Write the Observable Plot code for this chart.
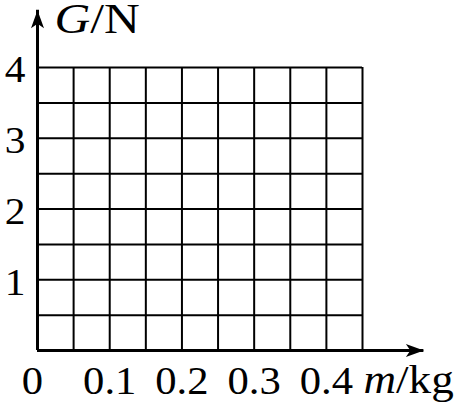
<!DOCTYPE html>
<html>
<head>
<meta charset="utf-8">
<script src="https://cdn.jsdelivr.net/npm/d3@7"></script>
<script src="https://cdn.jsdelivr.net/npm/@observablehq/plot@0.6"></script>
<style>
  html, body { margin: 0; padding: 0; background: #fff; }
  svg { display: block; overflow: visible; }
</style>
</head>
<body>
<div id="chart"></div>
<script>
// grid lines (vertical, in kg) and (horizontal, in N)
const gridX = [0.05, 0.1, 0.15, 0.2, 0.25, 0.3, 0.35, 0.4, 0.45];
const gridY = [0.5, 1, 1.5, 2, 2.5, 3, 3.5, 4];
// tick labels
const xTickValues = [0.1, 0.2, 0.3, 0.4];
const xTickLabels = ["0.1", "0.2", "0.3", "0.4"];
const yTickValues = [1, 2, 3, 4];
const yTickLabels = ["1", "2", "3", "4"];
const originLabel = ["0"];
// axis extents (arrow tips)
const xAxisEnd = [0.535];
const yAxisEnd = [4.81];
// axis titles: [italic symbol, unit]
const xTitle = ["m", "/kg"];
const yTitle = ["G", "/N"];

const arrowUp = {
  draw(ctx) {
    ctx.moveTo(0, 0);
    ctx.lineTo(6.5, 18);
    ctx.lineTo(0, 13.5);
    ctx.lineTo(-6.5, 18);
    ctx.closePath();
  }
};
const arrowRight = {
  draw(ctx) {
    ctx.moveTo(0, 0);
    ctx.lineTo(-18, 6.5);
    ctx.lineTo(-13.5, 0);
    ctx.lineTo(-18, -6.5);
    ctx.closePath();
  }
};

const font = "'Liberation Serif', 'Times New Roman', serif";
const tag = name => () => name;

const chart = Plot.plot({
  width: 456,
  height: 412,
  marginLeft: 37,
  marginRight: 94,
  marginTop: 67,
  marginBottom: 62,
  style: { fontFamily: font, background: "#fff", color: "#000" },
  x: { domain: [0, 0.45], axis: null },
  y: { domain: [0, 4], axis: null },
  marks: [
    Plot.ruleX(gridX, { x: d => d, y1: 0, y2: 4, stroke: "#000", strokeWidth: 2, strokeOpacity: 1 }),
    Plot.ruleY(gridY, { y: d => d, x1: 0, x2: 0.45, stroke: "#000", strokeWidth: 2, strokeOpacity: 1 }),
    // axes
    Plot.ruleX([0], { x: d => d, y1: 0, y2: yAxisEnd[0], stroke: "#000", strokeWidth: 3, strokeOpacity: 1 }),
    Plot.ruleY([0], { y: d => d, x1: 0, x2: xAxisEnd[0], stroke: "#000", strokeWidth: 3, strokeOpacity: 1 }),
    Plot.dot(yAxisEnd, { x: () => 0, y: d => d, symbol: arrowUp, fill: "#000", stroke: "none" }),
    Plot.dot(xAxisEnd, { x: d => d, y: () => 0, symbol: arrowRight, fill: "#000", stroke: "none" }),
    // tick labels
    Plot.text(xTickValues, { x: d => d, y: () => 0, text: (d, i) => xTickLabels[i], fontSize: 41, dy: 30, fill: "#000", ariaLabel: tag("xtick") }),
    Plot.text(originLabel, { x: () => 0, y: () => 0, text: d => d, fontSize: 41, dy: 30, dx: -5, fill: "#000", ariaLabel: tag("xtick") }),
    Plot.text(yTickValues, { x: () => 0, y: d => d, text: (d, i) => yTickLabels[i], fontSize: 37, dx: -12, dy: 3, textAnchor: "end", fill: "#000", ariaLabel: tag("ytick") }),
    // axis titles
    Plot.text([xTitle.join("")], { x: () => 0.45, y: () => 0, text: d => d, fontSize: 41, dx: 1, dy: 29, textAnchor: "start", fill: "#000", ariaLabel: tag("xtitle") }),
    Plot.text([yTitle.join("")], { x: () => 0, y: () => yAxisEnd[0], text: d => d, fontSize: 42, dx: 17, dy: 9, textAnchor: "start", fill: "#000", ariaLabel: tag("ytitle") })
  ]
});
document.getElementById("chart").appendChild(chart);

// italic quantity symbol followed by upright unit
function styleTitle(label, parts) {
  const t = chart.querySelector(`text[aria-label="${label}"]`);
  if (!t) return;
  t.textContent = "";
  const ns = "http://www.w3.org/2000/svg";
  const a = document.createElementNS(ns, "tspan");
  a.setAttribute("font-style", "italic");
  a.textContent = parts[0];
  const b = document.createElementNS(ns, "tspan");
  b.textContent = parts[1];
  t.appendChild(a);
  t.appendChild(b);
}
styleTitle("xtitle", xTitle);
styleTitle("ytitle", yTitle);

// the reference lettering is slightly wider than Times: stretch horizontally
// about each text's own anchor point (appended to Plot's own translate)
const stretch = { xtick: 1.04, ytick: 1.12, xtitle: 1.1, ytitle: 1.18 };
chart.querySelectorAll("text[aria-label]").forEach(t => {
  const k = stretch[t.getAttribute("aria-label")];
  if (!k) return;
  const tr = t.getAttribute("transform") || "";
  t.setAttribute("transform", `${tr} scale(${k},1)`.trim());
});
</script>
</body>
</html>
